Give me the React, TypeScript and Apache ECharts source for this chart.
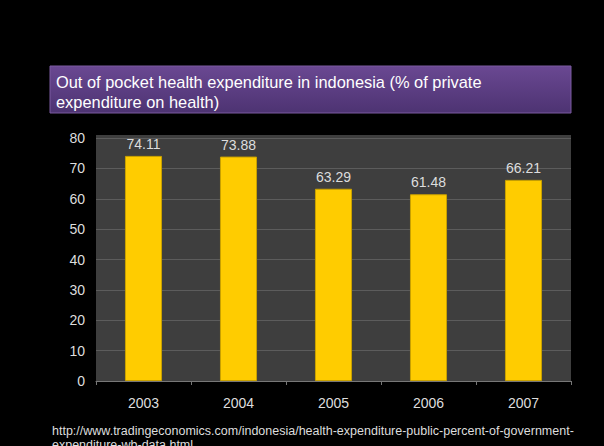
import React, { useEffect, useRef } from "react";
import * as echarts from "echarts";

const years = ["2003", "2004", "2005", "2006", "2007"];
const values = [74.11, 73.88, 63.29, 61.48, 66.21];
const titleText = "Out of pocket health expenditure in indonesia (% of private\nexpenditure on health)";
const sourceText = "http://www.tradingeconomics.com/indonesia/health-expenditure-public-percent-of-government-\nexpenditure-wb-data.html";

const FONT = "Liberation Sans, Arial, sans-serif";

export default function App() {
  const ref = useRef<HTMLDivElement>(null);
  useEffect(() => {
    if (!ref.current) return;
    const chart = echarts.init(ref.current, null, { renderer: "svg" });
    chart.setOption({
      animation: false,
      backgroundColor: "#000000",
      title: [
        {
          text: titleText,
          left: 56,
          top: 72,
          padding: 0,
          textStyle: {
            color: "#ffffff",
            fontFamily: FONT,
            fontSize: 16.4,
            fontWeight: "normal",
            lineHeight: 20,
          },
        },
        {
          text: sourceText,
          left: 52,
          top: 424,
          padding: 0,
          textStyle: {
            color: "#dddddd",
            fontFamily: FONT,
            fontSize: 12.5,
            fontWeight: "normal",
            lineHeight: 14,
          },
        },
      ],
      graphic: [
        {
          type: "rect",
          z: -10,
          shape: { x: 50, y: 66, width: 521, height: 47 },
          style: {
            fill: new echarts.graphic.LinearGradient(0, 0, 0, 1, [
              { offset: 0, color: "#6a4892" },
              { offset: 1, color: "#4d3372" },
            ]),
            stroke: "#7a5aa0",
            lineWidth: 1,
          },
        },
        {
          type: "rect",
          z: -10,
          shape: { x: 96, y: 135, width: 475, height: 246 },
          style: { fill: "#3e3e3e" },
        },
      ],
      grid: { left: 96, right: 33, top: 138, bottom: 65, containLabel: false },
      xAxis: {
        type: "category",
        data: years,
        axisLine: { show: true, lineStyle: { color: "#777777" } },
        axisTick: { show: true, length: 4, lineStyle: { color: "#777777" } },
        axisLabel: {
          color: "#dddddd",
          fontSize: 14,
          fontFamily: FONT,
          margin: 15,
        },
      },
      yAxis: {
        type: "value",
        min: 0,
        max: 80,
        interval: 10,
        axisLine: { show: false },
        axisTick: { show: false },
        splitLine: { lineStyle: { color: "#5c5c5c", width: 1 } },
        axisLabel: {
          color: "#dddddd",
          fontSize: 14,
          fontFamily: FONT,
          margin: 11,
        },
      },
      series: [
        {
          type: "bar",
          data: values,
          barWidth: "39%",
          itemStyle: { color: "#ffcc00", borderColor: "#c9a100", borderWidth: 1 },
          label: {
            show: true,
            position: "top",
            distance: 5,
            color: "#dddddd",
            fontSize: 14,
            fontFamily: FONT,
            formatter: (p: any) => p.value.toFixed(2),
          },
        },
      ],
    });
    return () => chart.dispose();
  }, []);
  return (
    <div
      ref={ref}
      style={{ position: "fixed", left: 0, top: 0, width: 604, height: 446, background: "#000" }}
    />
  );
}
